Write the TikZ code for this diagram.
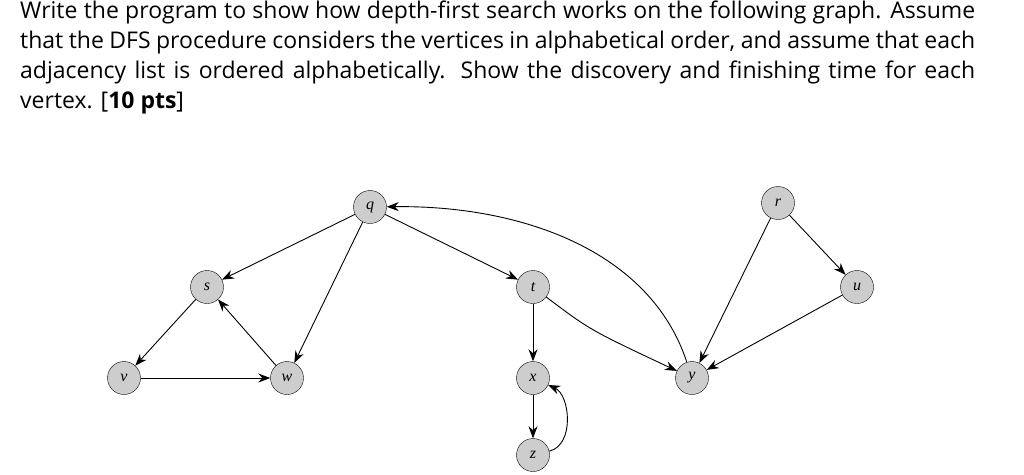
\documentclass[tikz,border=0pt]{standalone}
\usepackage{fontspec}
\newfontfamily\qfont{Open Sans}
\newfontfamily\lfont{Liberation Serif}
\usetikzlibrary{arrows.meta}
\definecolor{ng}{RGB}{205,205,205}
\begin{document}
\begin{tikzpicture}[x=1pt,y=-1pt,
  vtx/.style={circle,draw,fill=ng,minimum size=33pt,inner sep=0pt,font=\lfont\fontsize{16}{16}\selectfont\itshape},
  arr/.style={-{Stealth[length=12pt,width=9pt]},line width=0.9pt}]
\useasboundingbox (0,0) rectangle (1024,474);
\node[anchor=north west,inner sep=0pt] (txt) at (20,1) {\parbox{955pt}{\qfont\fontsize{23}{30}\selectfont\sloppy
Write the program to show how depth-first search works on the following graph. Assume\linebreak that the DFS procedure considers the vertices in alphabetical order, and assume that each\linebreak adjacency list is ordered alphabetically. Show the discovery and finishing time for each\linebreak vertex. [\textbf{10 pts}]}};
\node[vtx] (q) at (370,207) {q};
\node[vtx] (r) at (778,203) {r};
\node[vtx] (s) at (207,287) {s};
\node[vtx] (t) at (533,287) {t};
\node[vtx] (u) at (857,287) {u};
\node[vtx] (v) at (124,378) {v};
\node[vtx] (w) at (287,378) {w};
\node[vtx] (x) at (533,378) {x};
\node[vtx] (y) at (692,378) {y};
\node[vtx] (z) at (533,455) {z};
\draw[arr] (q) -- (s);
\draw[arr] (q) -- (w);
\draw[arr] (q) -- (t);
\draw[arr] (t) -- (x);
\draw[arr] (t) .. controls (590,330) .. (y);
\draw[arr] (x) -- (z);
\draw[arr] (z) .. controls (575,445) and (570,395) .. (x);
\draw[arr] (y) .. controls (650,250) and (520,205) .. (q);
\draw[arr] (s) -- (v);
\draw[arr] (v) -- (w);
\draw[arr] (w) -- (s);
\draw[arr] (r) -- (y);
\draw[arr] (r) -- (u);
\draw[arr] (u) -- (y);
\end{tikzpicture}
\end{document}
